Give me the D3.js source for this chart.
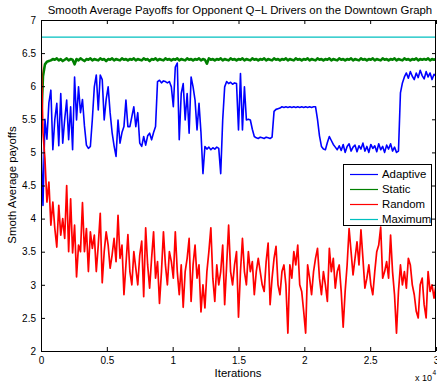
<!DOCTYPE html>
<html><head><meta charset="utf-8">
<script src="https://cdn.jsdelivr.net/npm/d3@7"></script>
<style>
body{margin:0;background:#fff}
svg{display:block;font-family:"Liberation Sans",Arial,Helvetica,sans-serif}
</style>
</head><body>
<svg id="chart" width="437" height="383"></svg>
<script>
const titleText = "Smooth Average Payoffs for Opponent Q\u2212L Drivers on the Downtown Graph";
const xLabelText = "Iterations";
const yLabelText = "Smoth Average payoffs";
const xTicks = [0, 5000, 10000, 15000, 20000, 25000, 30000];
const xTickLabels = ["0", "0.5", "1", "1.5", "2", "2.5", "3"];
const yTicks = [2, 2.5, 3, 3.5, 4, 4.5, 5, 5.5, 6, 6.5, 7];
const yTickLabels = ["2", "2.5", "3", "3.5", "4", "4.5", "5", "5.5", "6", "6.5", "7"];
const seriesNames = ["Adaptive", "Static", "Random", "Maximum"];
const seriesColors = ["#0000ff", "#008000", "#ff0000", "#00bfbf"];
const maxIteration = 30000;

const adaptive = [
5.2,4.2,5.5,5.2,5.75,5.94,5.04,5.5,5.74,5.1,
5.89,5.14,5.5,5.79,5.19,5.69,5.04,6.14,5.49,5.99,
5.6,5.8,5.4,5.11,5.06,5.09,5.5,5.99,6.17,5.64,
6.17,6.1,5.49,5.8,5.99,5.6,5.3,5.1,4.94,5.49,
5.14,5.3,5.39,5.79,5.39,5.39,5.54,5.69,5.39,5.6,
5.14,5.09,5.24,5.11,5.25,5.29,5.19,5.3,5.39,6.07,
6.09,6.05,6.08,6.07,6.05,6.07,5.99,5.69,6.29,6.35,
5.19,5.89,6.04,5.49,5.89,5.29,6.14,5.99,5.79,5.34,
5.74,5.3,4.68,5.09,5.05,5.08,5.04,5.07,5.05,5.08,
5.06,4.68,5.49,5.99,6.07,6.04,6.06,6.03,6.05,6.04,
5.34,6.19,5.34,5.99,5.49,5.5,5.49,5.35,5.24,5.22,
5.21,5.23,5.22,5.21,5.23,5.22,5.21,5.23,5.62,5.65,
5.66,5.67,5.69,5.68,5.69,5.68,5.69,5.68,5.69,5.68,
5.69,5.68,5.69,5.68,5.69,5.68,5.69,5.68,5.69,5.69,
5.5,5.25,5.09,5.05,5.04,5.15,5.24,5.18,5.12,5.08,
5.04,5.1,5.03,5.12,5.0,5.09,5.13,5.02,5.08,5.11,
5.01,5.1,5.05,5.14,5.02,5.09,5.0,5.12,5.06,5.1,
5.01,5.13,5.04,5.09,5.0,5.11,5.05,5.13,5.02,5.08,
5.0,5.02,5.9,6.05,6.14,6.2,6.12,6.22,6.15,6.1,
6.2,6.13,6.24,6.16,6.11,6.22,6.14,6.2,6.1,6.18,
6.15];

const staticPay = [
5.4,6.15,6.33,6.37,6.38,
6.39,6.41,6.40,6.42,6.39,6.41,6.38,6.40,6.42,6.39,
6.41,6.40,6.33,6.41,6.39,6.42,6.40,6.38,6.41,6.40,
6.42,6.39,6.41,6.40,6.39,6.42,6.40,6.41,6.38,6.41,
6.40,6.42,6.39,6.41,6.40,6.39,6.42,6.40,6.41,6.39,
6.41,6.40,6.42,6.39,6.41,6.40,6.39,6.42,6.40,6.41,
6.38,6.41,6.40,6.42,6.39,6.41,6.40,6.39,6.42,6.40,
6.41,6.39,6.41,6.40,6.42,6.39,6.41,6.40,6.39,6.42,
6.40,6.41,6.39,6.41,6.40,6.42,6.39,6.41,6.40,6.34,
6.42,6.40,6.41,6.39,6.41,6.40,6.42,6.39,6.41,6.40,
6.39,6.42,6.40,6.41,6.39,6.41,6.40,6.42,6.39,6.41,
6.40,6.39,6.42,6.40,6.41,6.39,6.41,6.40,6.42,6.39,
6.41,6.40,6.39,6.42,6.40,6.41,6.39,6.41,6.40,6.42,
6.39,6.41,6.40,6.39,6.42,6.40,6.41,6.39,6.41,6.40,
6.42,6.39,6.41,6.40,6.39,6.42,6.40,6.41,6.39,6.41,
6.40,6.42,6.39,6.41,6.40,6.39,6.42,6.40,6.41,6.39,
6.41,6.40,6.42,6.39,6.41,6.40,6.39,6.42,6.40,6.41,
6.39,6.41,6.40,6.42,6.39,6.41,6.40,6.39,6.42,6.40,
6.41,6.39,6.41,6.40,6.42,6.39,6.41,6.40,6.39,6.42,
6.40,6.41,6.39,6.41,6.40,6.42,6.39,6.41,6.40,6.41,
6.40,6.42,6.39,6.41,6.40,6.41];

const random = [
6.6,5.3,4.9,4.25,4.55,3.9,4.25,3.85,3.57,4.2,
3.75,4.0,3.7,4.5,3.5,4.3,3.48,3.9,3.12,3.6,
3.5,4.24,3.5,3.85,3.2,3.8,3.55,3.75,3.2,3.6,
4.08,3.03,3.5,3.8,3.6,3.25,3.45,3.7,3.35,4.05,
3.4,3.6,2.85,3.3,3.76,3.2,3.0,3.5,3.25,3.0,
3.45,3.66,2.82,3.86,3.3,2.95,3.4,3.8,3.1,3.35,
2.72,3.2,3.8,3.3,3.0,3.5,3.35,3.1,3.8,3.2,
2.85,3.3,2.66,3.2,3.4,3.7,2.75,3.3,3.6,3.1,
3.3,2.59,3.0,2.65,3.2,3.5,3.86,3.1,2.75,3.3,
3.0,3.2,3.6,2.7,3.3,3.9,3.2,3.0,3.3,3.5,
2.51,3.2,3.7,3.2,3.0,3.5,3.2,3.35,2.85,3.2,
3.4,3.2,3.0,2.9,3.35,3.63,2.7,3.1,3.4,3.58,
3.0,2.85,3.2,3.3,3.0,2.27,3.3,3.1,3.5,3.3,
3.6,3.0,2.9,2.6,2.27,3.3,3.1,2.85,3.2,3.4,
3.55,3.1,2.85,3.2,3.0,2.75,3.55,3.2,3.4,2.95,
3.2,3.3,2.9,2.36,2.9,3.3,3.85,3.5,3.15,3.4,
3.65,3.3,3.83,3.4,2.95,3.1,3.3,3.0,2.85,3.2,
3.5,3.6,3.87,3.1,3.2,3.35,3.1,3.75,3.2,2.85,
2.27,2.9,3.3,3.0,3.2,2.95,3.4,3.3,3.0,2.85,
2.6,2.5,3.0,3.1,2.7,2.5,3.2,2.9,3.0,2.8,
3.0];

const maximum = [6.74, 6.74];

const seriesValues = [adaptive, staticPay, random, maximum];
const seriesWidths = [1.6, 2.6, 1.7, 1.2];

const svg = d3.select("#chart");
const plot = {left: 41, right: 436, top: 20, bottom: 351};
const x = d3.scaleLinear().domain([0, maxIteration]).range([plot.left, plot.right]);
const y = d3.scaleLinear().domain([2, 7]).range([plot.bottom, plot.top]);

svg.append("defs").append("clipPath").attr("id", "clip")
  .append("rect").attr("x", plot.left).attr("y", plot.top)
  .attr("width", plot.right - plot.left).attr("height", plot.bottom - plot.top);

const lines = svg.append("g").attr("clip-path", "url(#clip)");
seriesValues.forEach((vals, k) => {
  const step = maxIteration / (vals.length - 1);
  const line = d3.line().x((d, i) => x(i * step)).y(d => y(d));
  lines.append("path").datum(vals)
    .attr("fill", "none").attr("stroke", seriesColors[k])
    .attr("stroke-width", seriesWidths[k])
    .attr("stroke-linejoin", "round")
    .attr("d", line);
});

// axes
const fmtX = (d) => xTickLabels[xTicks.indexOf(d)];
const fmtY = (d) => yTickLabels[yTicks.indexOf(d)];
const axStyle = g => {
  g.select(".domain").remove();
  g.selectAll(".tick line").attr("stroke", "#000");
  g.selectAll("text").attr("fill", "#000").attr("font-size", "10px")
    .attr("font-family", '"Liberation Sans",Arial,sans-serif');
};
svg.append("g").attr("transform", `translate(0,${plot.bottom})`)
  .call(d3.axisBottom(x).tickValues(xTicks).tickFormat(fmtX).tickSize(-4).tickPadding(6)).call(axStyle);
svg.append("g").attr("transform", `translate(0,${plot.top})`)
  .call(d3.axisTop(x).tickValues(xTicks).tickFormat("").tickSize(-4)).call(axStyle);
svg.append("g").attr("transform", `translate(${plot.left},0)`)
  .call(d3.axisLeft(y).tickValues(yTicks).tickFormat(fmtY).tickSize(-4).tickPadding(5)).call(axStyle);
svg.append("g").attr("transform", `translate(${plot.right},0)`)
  .call(d3.axisRight(y).tickValues(yTicks).tickFormat("").tickSize(-4)).call(axStyle);

svg.append("rect").attr("x", plot.left + 0.5).attr("y", plot.top + 0.5)
  .attr("width", plot.right - plot.left - 1).attr("height", plot.bottom - plot.top)
  .attr("fill", "none").attr("stroke", "#000").attr("stroke-width", 1);

// titles
svg.append("text").attr("x", 240).attr("y", 14).attr("text-anchor", "middle")
  .attr("font-size", "11.4px").attr("fill", "#000").text(titleText);
svg.append("text").attr("x", 238).attr("y", 377).attr("text-anchor", "middle")
  .attr("font-size", "11.4px").attr("fill", "#000").text(xLabelText);
svg.append("text").attr("transform", "translate(16,185) rotate(-90)").attr("text-anchor", "middle")
  .attr("font-size", "11.4px").attr("fill", "#000").text(yLabelText);
const mult = svg.append("text").attr("x", 432).attr("y", 381).attr("text-anchor", "end")
  .attr("font-size", "9px").attr("fill", "#000");
mult.append("tspan").text("x 10");
svg.append("text").attr("x", 432.5).attr("y", 375).attr("font-size", "6.5px").attr("fill", "#000").text("4");

// legend
const lg = svg.append("g");
lg.append("rect").attr("x", 343.5).attr("y", 164.5).attr("width", 88).attr("height", 61)
  .attr("fill", "#fff").attr("stroke", "#000").attr("stroke-width", 1);
seriesNames.forEach((name, k) => {
  const yy = 174.5 + k * 15;
  lg.append("line").attr("x1", 350).attr("x2", 378).attr("y1", yy).attr("y2", yy)
    .attr("stroke", seriesColors[k]).attr("stroke-width", 1.2);
  lg.append("text").attr("x", 382).attr("y", yy).attr("dy", "0.35em")
    .attr("font-size", "11.4px").attr("fill", "#000").text(name);
});
</script>
</body></html>
